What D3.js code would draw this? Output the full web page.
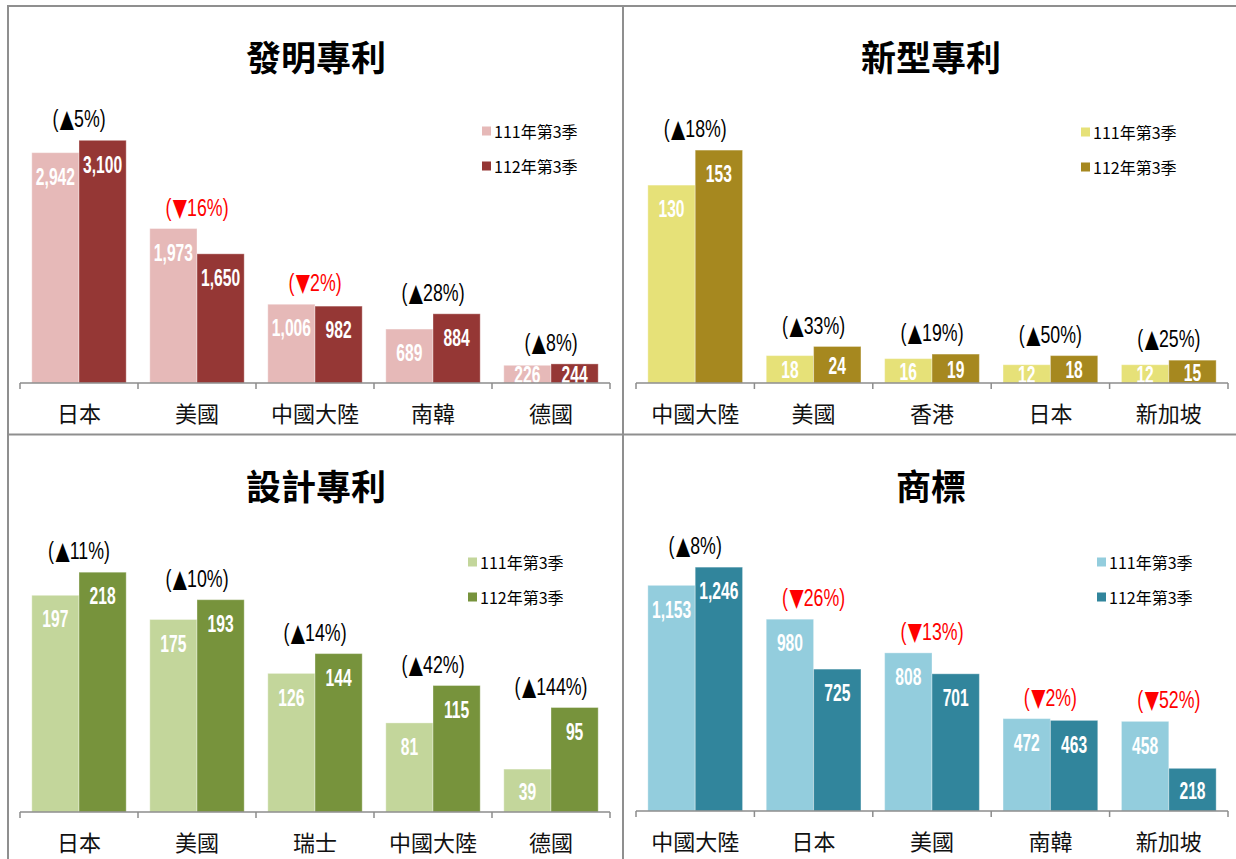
<!DOCTYPE html>
<html>
<head>
<meta charset="utf-8">
<script src="https://cdn.jsdelivr.net/npm/d3@7"></script>
<style>
  body { margin: 0; background: #fff; }
</style>
</head>
<body>
<div id="chart"></div>
<script>
const SERIES = ["111年第3季", "112年第3季"];

// 發明專利
const inventCats = ["日本", "美國", "中國大陸", "南韓", "德國"];
const invent111 = [2942, 1973, 1006, 689, 226];
const invent112 = [3100, 1650, 982, 884, 244];

// 新型專利
const utilityCats = ["中國大陸", "美國", "香港", "日本", "新加坡"];
const utility111 = [130, 18, 16, 12, 12];
const utility112 = [153, 24, 19, 18, 15];

// 設計專利
const designCats = ["日本", "美國", "瑞士", "中國大陸", "德國"];
const design111 = [197, 175, 126, 81, 39];
const design112 = [218, 193, 144, 115, 95];

// 商標
const tmCats = ["中國大陸", "日本", "美國", "南韓", "新加坡"];
const tm111 = [1153, 980, 808, 472, 458];
const tm112 = [1246, 725, 701, 463, 218];

const W = 1236, H = 859;
const CJK = "'Noto Sans CJK TC', 'Noto Sans CJK SC', sans-serif";
const NUM = "'Liberation Sans Narrow', 'Liberation Sans', Arial, sans-serif";

const panels = [
  { title: "發明專利", cats: inventCats, a: invent111, b: invent112, yMax: 3500,
    colors: ["#E6B9B8", "#953735"], x0: 20, x1: 610, top: 109, axisY: 383, titleX: 316, titleY: 55,
    legX: 482, legY: 131 },
  { title: "新型專利", cats: utilityCats, a: utility111, b: utility112, yMax: 180,
    colors: ["#E6E178", "#A6881F"], x0: 636, x1: 1228, top: 109, axisY: 383, titleX: 931, titleY: 55,
    legX: 1081, legY: 132 },
  { title: "設計專利", cats: designCats, a: design111, b: design112, yMax: 250,
    colors: ["#C3D69B", "#77933C"], x0: 20, x1: 610, top: 537, axisY: 812, titleX: 316, titleY: 484,
    legX: 468, legY: 562 },
  { title: "商標", cats: tmCats, a: tm111, b: tm112, yMax: 1400,
    colors: ["#93CDDD", "#31859C"], x0: 636, x1: 1228, top: 537, axisY: 811, titleX: 931, titleY: 484,
    legX: 1097, legY: 562 }
];

const svg = d3.select("#chart").append("svg")
  .attr("width", W).attr("height", H)
  .style("display", "block");

// panel frame lines
const frame = [
  [7, 6, W, 6], [8, 6, 8, H], [623, 6, 623, H], [8, 434.5, W, 434.5]
];
svg.selectAll(".frame").data(frame).enter().append("line")
  .attr("x1", d => d[0]).attr("y1", d => d[1]).attr("x2", d => d[2]).attr("y2", d => d[3])
  .attr("stroke", "#8f8f8f").attr("stroke-width", 2);

const fmt = d3.format(",");

panels.forEach((p, pi) => {
  const g = svg.append("g");

  const x = d3.scaleBand().domain(p.cats).range([p.x0, p.x1]).padding(0);
  const step = x.bandwidth();
  const xs = d3.scaleBand().domain([0, 1]).range([step * 0.1, step * 0.9]).padding(0);
  const y = d3.scaleLinear().domain([0, p.yMax]).range([p.axisY, p.top]);

  // title
  g.append("text")
    .attr("x", p.titleX).attr("y", p.titleY)
    .attr("text-anchor", "middle").attr("dominant-baseline", "central")
    .style("font-family", CJK).style("font-weight", 700).style("font-size", "35px")
    .attr("fill", "#000").text(p.title);

  // legend
  SERIES.forEach((s, i) => {
    const ly = p.legY + i * 35;
    g.append("rect").attr("x", p.legX).attr("y", ly - 4.5).attr("width", 9).attr("height", 9)
      .attr("fill", p.colors[i]);
    g.append("text").attr("x", p.legX + 12).attr("y", ly)
      .attr("dominant-baseline", "central")
      .style("font-family", CJK).style("font-size", "16px").attr("fill", "#000")
      .text(s);
  });

  // clip for value labels (not below the axis)
  const clipId = "clip" + pi;
  g.append("clipPath").attr("id", clipId).append("rect")
    .attr("x", p.x0).attr("y", p.top - 40).attr("width", p.x1 - p.x0).attr("height", p.axisY - p.top + 40);

  const rows = p.cats.map((c, i) => ({ cat: c, vals: [p.a[i], p.b[i]] }));

  const grp = g.selectAll(".grp").data(rows).enter().append("g")
    .attr("transform", d => `translate(${x(d.cat)},0)`);

  grp.selectAll("rect").data(d => d.vals).enter().append("rect")
    .attr("x", (v, i) => xs(i)).attr("width", xs.bandwidth())
    .attr("y", v => y(v)).attr("height", v => p.axisY - y(v))
    .attr("fill", (v, i) => p.colors[i])
    .attr("stroke", "rgba(255,255,255,0.35)").attr("stroke-width", 1);

  // value labels, white condensed bold
  const lab = g.append("g").attr("clip-path", `url(#${clipId})`);
  rows.forEach(d => {
    d.vals.forEach((v, i) => {
      const h = p.axisY - y(v);
      const cy = y(v) + Math.min(24, h / 2 + 1);
      const cx = x(d.cat) + xs(i) + xs.bandwidth() / 2;
      lab.append("g").attr("transform", `translate(${cx},${cy}) scale(0.68,1)`)
        .append("text")
        .attr("text-anchor", "middle").attr("dominant-baseline", "central")
        .style("font-family", NUM).style("font-weight", 700).style("font-size", "23px")
        .attr("fill", "#fff").text(fmt(v));
    });
  });

  // change labels
  rows.forEach(d => {
    const [a, b] = d.vals;
    const pct = Math.round(Math.abs(b - a) / a * 100);
    const up = b >= a;
    const cy = y(Math.max(a, b)) - 22;
    const cx = x(d.cat) + step / 2;
    const t = g.append("g").attr("transform", `translate(${cx},${cy}) scale(0.74,1)`)
      .append("text")
      .attr("text-anchor", "middle").attr("dominant-baseline", "central")
      .style("font-family", NUM).style("font-size", "24px")
      .attr("fill", up ? "#000" : "#FF0000");
    t.append("tspan").text("(");
    t.append("tspan").style("font-family", "'DejaVu Sans', sans-serif").style("font-size", "25px")
      .attr("dx", 2).text(up ? "▲" : "▼");
    t.append("tspan").text(`${pct}%)`);
  });

  // axis line + ticks at band edges
  g.append("line").attr("x1", p.x0).attr("x2", p.x1).attr("y1", p.axisY).attr("y2", p.axisY)
    .attr("stroke", "#8c8c8c").attr("stroke-width", 1.5);
  const edges = p.cats.map(c => x(c)).concat([p.x1]);
  g.selectAll(".tick").data(edges).enter().append("line")
    .attr("x1", d => d).attr("x2", d => d).attr("y1", p.axisY).attr("y2", p.axisY + 6)
    .attr("stroke", "#8c8c8c").attr("stroke-width", 1.5);

  // category labels
  g.selectAll(".cat").data(p.cats).enter().append("text")
    .attr("x", c => x(c) + step / 2).attr("y", p.axisY + 29)
    .attr("text-anchor", "middle").attr("dominant-baseline", "central")
    .style("font-family", CJK).style("font-size", "22px").attr("fill", "#111")
    .text(c => c);
});
</script>
</body>
</html>
